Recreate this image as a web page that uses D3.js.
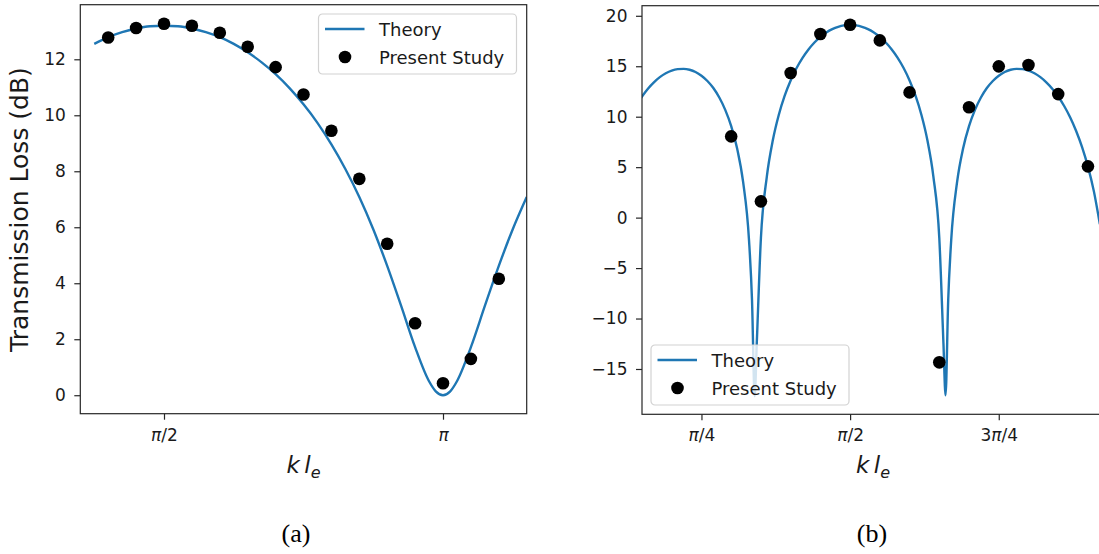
<!DOCTYPE html>
<html>
<head>
<meta charset="utf-8">
<script src="https://cdn.jsdelivr.net/npm/d3@7"></script>
<style>
  body { margin: 0; background: #fff; }
  svg { display: block; }
</style>
</head>
<body>
<svg id="fig" width="1099" height="554"></svg>
<script>
// ---- Panel (a): wavenumber k·l_e in units of π ----
const aTheoryKl = [0.375, 0.4, 0.425, 0.45, 0.475, 0.5, 0.525, 0.55, 0.575, 0.6, 0.625, 0.65,
  0.675, 0.7, 0.725, 0.75, 0.775, 0.8, 0.825, 0.85, 0.875, 0.9, 0.925, 0.95, 0.975, 0.9875,
  1.0, 1.0125, 1.025, 1.05, 1.075, 1.1, 1.125, 1.15];
const aTheory = [12.55, 12.79, 12.97, 13.10, 13.18, 13.20, 13.18, 13.10, 12.97, 12.79, 12.55, 12.25,
  11.89, 11.47, 10.97, 10.39, 9.73, 8.96, 8.08, 7.08, 5.93, 4.62, 3.19, 1.72, 0.50, 0.13,
  0.00, 0.13, 0.50, 1.72, 3.19, 4.62, 5.93, 7.08];
const aStudyKl = [0.40, 0.45, 0.50, 0.55, 0.60, 0.65, 0.70, 0.75, 0.80, 0.85, 0.90, 0.95, 1.00, 1.05, 1.10];
const aStudy = [12.78, 13.12, 13.27, 13.20, 12.95, 12.45, 11.72, 10.74, 9.45, 7.73, 5.41, 2.57, 0.43, 1.30, 4.16];
const aYTicks = [0, 2, 4, 6, 8, 10, 12];
const aXTicks = [0.5, 1.0];
const aXTickLabels = ["π/2", "π"];

// ---- Panel (b) ----
const bTheoryKl = [0.14, 0.15, 0.16, 0.17, 0.18, 0.19, 0.20, 0.21, 0.22, 0.23, 0.24, 0.25, 0.26,
  0.27, 0.28, 0.29, 0.30, 0.31, 0.32, 0.33, 0.335, 0.3395, 0.343, 0.35, 0.36, 0.37, 0.38, 0.39,
  0.40, 0.41, 0.42, 0.43, 0.44, 0.45, 0.46, 0.47, 0.48, 0.49, 0.50, 0.51, 0.52, 0.53, 0.54, 0.55,
  0.56, 0.57, 0.58, 0.59, 0.60, 0.61, 0.62, 0.63, 0.64, 0.65, 0.657, 0.6605, 0.665, 0.67, 0.68,
  0.69, 0.70, 0.71, 0.72, 0.73, 0.74, 0.75, 0.76, 0.77, 0.78, 0.79, 0.80, 0.81, 0.82, 0.83, 0.84,
  0.85, 0.86, 0.87, 0.88, 0.89, 0.90, 0.91, 0.92];
const bTheory = [11.06, 12.00, 12.78, 13.41, 13.92, 14.30, 14.57, 14.71, 14.74, 14.65, 14.43, 14.06, 13.54,
  12.84, 11.90, 10.68, 9.07, 6.85, 3.56, -2.25, -8.14, -17.7, -12.5, -2.02, 4.09, 7.66, 10.17, 12.08,
  13.59, 14.82, 15.83, 16.66, 17.35, 17.91, 18.35, 18.68, 18.91, 19.05, 19.10, 19.05, 18.91, 18.68, 18.35, 17.91,
  17.35, 16.66, 15.83, 14.82, 13.59, 12.08, 10.17, 7.66, 4.09, -2.02, -12.5, -17.6, -8.14, -2.25, 3.56,
  6.85, 9.07, 10.68, 11.90, 12.84, 13.54, 14.06, 14.43, 14.65, 14.74, 14.71, 14.57, 14.30, 13.92, 13.41, 12.78,
  12.00, 11.06, 9.95, 8.61, 7.01, 5.05, 2.60, -0.65];
const bStudyKl = [0.30, 0.35, 0.40, 0.45, 0.50, 0.55, 0.60, 0.65, 0.70, 0.75, 0.80, 0.85, 0.90];
const bStudy = [8.05, 1.61, 14.33, 18.19, 19.11, 17.56, 12.41, -14.34, 10.93, 14.99, 15.12, 12.24, 5.08];
const bYTicks = [-15, -10, -5, 0, 5, 10, 15, 20];
const bXTicks = [0.25, 0.5, 0.75];
const bXTickLabels = ["π/4", "π/2", "3π/4"];

const seriesNames = ["Theory", "Present Study"];

const FONT = "'DejaVu Sans', Verdana, sans-serif";
const INK = "#1a1a1a";
const SPINE = "#262626";
const BLUE = "#1f77b4";

const svg = d3.select("#fig");
svg.append("rect").attr("width", 1099).attr("height", 554).attr("fill", "#fff");
const defs = svg.append("defs");

function drawPanel(p) {
  const g = svg.append("g");
  const x = d3.scaleLinear().domain(p.xDomain).range([p.left, p.right]);
  const y = d3.scaleLinear().domain(p.yDomain).range([p.bottom, p.top]);

  const clipId = p.id + "-clip";
  defs.append("clipPath").attr("id", clipId).append("rect")
    .attr("x", p.left).attr("y", p.top)
    .attr("width", p.right - p.left).attr("height", p.bottom - p.top);

  // theory curve
  const line = d3.line().x(d => x(d[0])).y(d => y(d[1])).curve(d3.curveMonotoneX);
  g.append("path")
    .datum(d3.zip(p.theoryKl, p.theory))
    .attr("clip-path", `url(#${clipId})`)
    .attr("d", line)
    .attr("fill", "none")
    .attr("stroke", BLUE)
    .attr("stroke-width", 2.4)
    .attr("stroke-linejoin", "round");

  // measured points
  g.append("g").selectAll("circle")
    .data(d3.zip(p.studyKl, p.study))
    .join("circle")
    .attr("cx", d => x(d[0]))
    .attr("cy", d => y(d[1]))
    .attr("r", 6.3)
    .attr("fill", "#000");

  // y axis
  const yAxis = d3.axisLeft(y).tickValues(p.yTicks).tickSize(6).tickPadding(8.5)
    .tickFormat(v => (v < 0 ? "\u2212" : "") + Math.abs(v));
  const ya = g.append("g").attr("transform", `translate(${p.left},0)`).call(yAxis);
  ya.select(".domain").remove();
  ya.selectAll(".tick line").attr("stroke", SPINE).attr("stroke-width", 1.2);
  ya.selectAll(".tick text").attr("fill", INK).style("font", `17px ${FONT}`);

  // x axis with π labels
  const xAxis = d3.axisBottom(x).tickValues(p.xTicks).tickSize(6).tickPadding(9).tickFormat(() => "");
  const xa = g.append("g").attr("transform", `translate(0,${p.bottom})`).call(xAxis);
  xa.select(".domain").remove();
  xa.selectAll(".tick line").attr("stroke", SPINE).attr("stroke-width", 1.2);
  xa.selectAll(".tick text").each(function(d, i) {
    const t = d3.select(this).attr("fill", INK).style("font", `17px ${FONT}`);
    const parts = p.xTickLabels[i].split("π");
    if (parts[0]) t.append("tspan").text(parts[0]);
    t.append("tspan").style("font-style", "italic").text("π");
    if (parts[1]) t.append("tspan").text(parts[1]);
  });

  // spines
  g.append("rect")
    .attr("x", p.left).attr("y", p.top)
    .attr("width", p.right - p.left).attr("height", p.bottom - p.top)
    .attr("fill", "none").attr("stroke", SPINE).attr("stroke-width", 1.2);

  // x label: k l_e
  const xl = g.append("text")
    .attr("x", p.xLabelX).attr("y", 473)
    .attr("text-anchor", "middle")
    .attr("fill", INK)
    .style("font", `italic 23px ${FONT}`);
  xl.append("tspan").text("k\u2009l");
  xl.append("tspan").attr("dy", 5).style("font-size", "16px").text("e");

  // legend
  const lg = g.append("g").attr("transform", `translate(${p.legend[0]},${p.legend[1]})`);
  lg.append("rect").attr("width", 198).attr("height", 60).attr("rx", 4)
    .attr("fill", "#fff").attr("fill-opacity", 0.8)
    .attr("stroke", "#d2d2d2").attr("stroke-width", 1.2);
  lg.append("line").attr("x1", 6.5).attr("x2", 46).attr("y1", 15).attr("y2", 15)
    .attr("stroke", BLUE).attr("stroke-width", 2.4);
  lg.append("circle").attr("cx", 26.5).attr("cy", 43).attr("r", 6.3).attr("fill", "#000");
  lg.selectAll("text.entry").data(seriesNames).join("text")
    .attr("class", "entry")
    .attr("x", 60.5)
    .attr("y", (d, i) => 15 + i * 28 + 6.5)
    .attr("fill", INK)
    .style("font", `18px ${FONT}`)
    .text(d => d);

  // caption
  svg.append("text")
    .attr("x", p.captionX).attr("y", 542)
    .attr("text-anchor", "middle")
    .attr("fill", "#000")
    .style("font", "26px 'Liberation Serif', 'Times New Roman', serif")
    .text(p.caption);

  return g;
}

drawPanel({
  id: "pa", left: 80.3, right: 526.7, top: 4.7, bottom: 413.7,
  xDomain: [0.35, 1.15], yDomain: [-0.66, 13.95],
  theoryKl: aTheoryKl, theory: aTheory, studyKl: aStudyKl, study: aStudy,
  yTicks: aYTicks, xTicks: aXTicks, xTickLabels: aXTickLabels,
  xLabelX: 303.5, legend: [318.5, 14], caption: "(a)", captionX: 296
});

drawPanel({
  id: "pb", left: 642, right: 1104, top: 5.7, bottom: 414.3,
  xDomain: [0.15, 0.927], yDomain: [-19.49, 21.0],
  theoryKl: bTheoryKl, theory: bTheory, studyKl: bStudyKl, study: bStudy,
  yTicks: bYTicks, xTicks: bXTicks, xTickLabels: bXTickLabels,
  xLabelX: 873, legend: [651, 345], caption: "(b)", captionX: 872
});

// y label on panel (a)
svg.append("text")
  .attr("transform", "translate(28,209.5) rotate(-90)")
  .attr("text-anchor", "middle")
  .attr("fill", INK)
  .style("font", `25px ${FONT}`)
  .text("Transmission Loss (dB)");
</script>
</body>
</html>
